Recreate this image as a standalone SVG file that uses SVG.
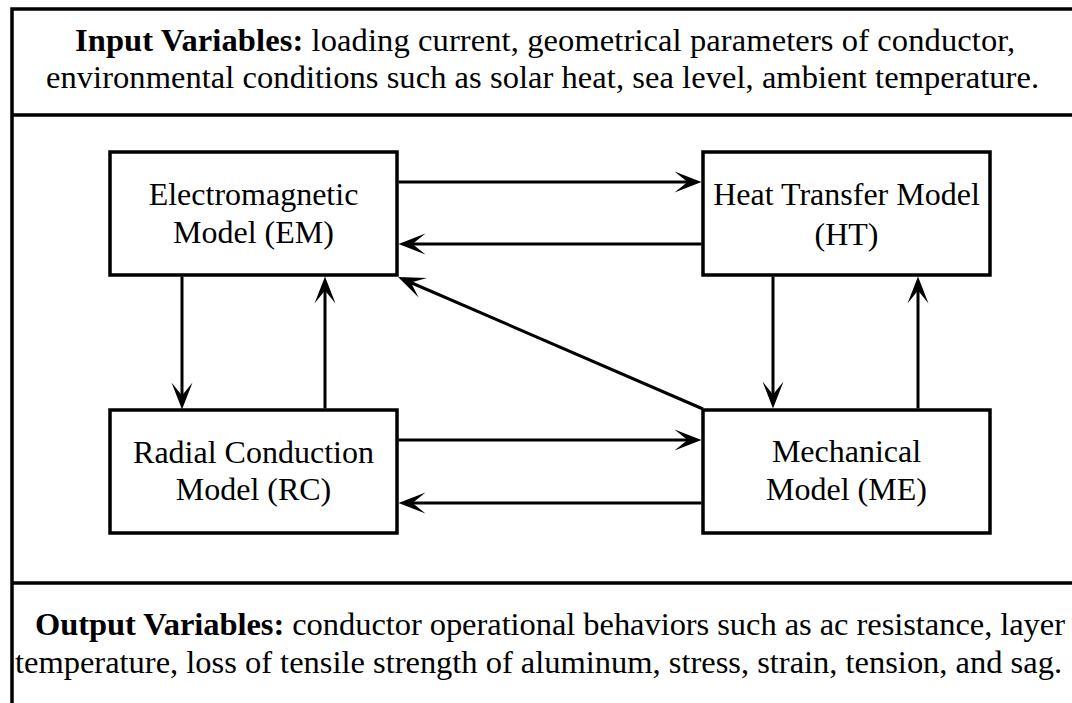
<svg xmlns="http://www.w3.org/2000/svg" width="1072" height="703" viewBox="0 0 1072 703">
  <style>
    .frame { stroke: #000; stroke-width: 3.5; fill: none; }
    .box { fill: #fff; stroke: #000; stroke-width: 3.5; }
    .lbl { font-family: "Liberation Serif", "Times New Roman", serif; font-size: 32px; fill: #000; text-anchor: middle; }
    .para { font-family: "Liberation Serif", "Times New Roman", serif; font-size: 32.5px; fill: #000; }
    .b { font-weight: bold; }
    .conn { stroke: #000; stroke-width: 3; fill: none; marker-end: url(#ah); }
  </style>
  <defs>
    <marker id="ah" viewBox="-30 -12 32 24" refX="-10" refY="0" markerWidth="32" markerHeight="24" markerUnits="userSpaceOnUse" orient="auto" overflow="visible">
      <path d="M0,0 L-27,-10.5 L-14,0 L-27,10.5 Z" fill="#000"/>
    </marker>
  </defs>
  <rect width="1072" height="703" fill="#fff"/>

  <g id="frame">
    <path class="frame" d="M12,703 V9 H1072 M12,115 H1072 M12,583 H1072"/>
  </g>

  <g id="input-variables">
    <text class="para" x="75" y="51" textLength="940" lengthAdjust="spacing"><tspan class="b">Input Variables:</tspan> loading current, geometrical parameters of conductor,</text>
    <text class="para" x="46" y="88" textLength="993" lengthAdjust="spacing">environmental conditions such as solar heat, sea level, ambient temperature.</text>
  </g>

  <g id="output-variables">
    <text class="para" x="35" y="635" textLength="1030" lengthAdjust="spacing"><tspan class="b">Output Variables:</tspan> conductor operational behaviors such as ac resistance, layer</text>
    <text class="para" x="15" y="673" textLength="1047" lengthAdjust="spacing">temperature, loss of tensile strength of aluminum, stress, strain, tension, and sag.</text>
  </g>

  <g id="connectors">
    <path class="conn" d="M398.5,182 H691.5"/>
    <path class="conn" d="M701.5,244 H408.5"/>
    <path class="conn" d="M182,276.5 V399.5"/>
    <path class="conn" d="M325,408.5 V286.5"/>
    <path class="conn" d="M773,276.5 V398.5"/>
    <path class="conn" d="M918,408.5 V286.5"/>
    <path class="conn" d="M398.5,440 H691.5"/>
    <path class="conn" d="M701.5,503 H408.5"/>
    <path class="conn" d="M703,409 L407.2,281"/>
  </g>

  <g id="node-em">
    <rect class="box" x="110" y="152" width="287" height="123"/>
    <text class="lbl" x="253.5" y="205">Electromagnetic</text>
    <text class="lbl" x="253.5" y="243">Model (EM)</text>
  </g>

  <g id="node-ht">
    <rect class="box" x="703" y="152" width="287" height="123"/>
    <text class="lbl" x="846.5" y="205">Heat Transfer Model</text>
    <text class="lbl" x="846.5" y="245">(HT)</text>
  </g>

  <g id="node-rc">
    <rect class="box" x="110" y="410" width="287" height="123"/>
    <text class="lbl" x="253.5" y="463">Radial Conduction</text>
    <text class="lbl" x="253.5" y="500">Model (RC)</text>
  </g>

  <g id="node-me">
    <rect class="box" x="703" y="410" width="287" height="123"/>
    <text class="lbl" x="846.5" y="462">Mechanical</text>
    <text class="lbl" x="846.5" y="500">Model (ME)</text>
  </g>
</svg>
